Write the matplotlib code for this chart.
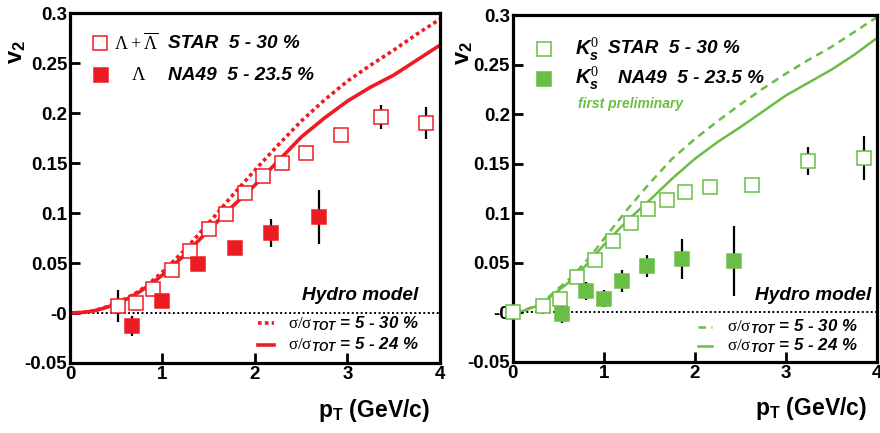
import matplotlib
matplotlib.use('Agg')
import matplotlib.pyplot as plt
import numpy as np

plt.rcParams['font.family'] = ['Liberation Sans', 'DejaVu Sans']
plt.rcParams['mathtext.fontset'] = 'custom'
plt.rcParams['mathtext.rm'] = 'Liberation Serif'
plt.rcParams['mathtext.it'] = 'Liberation Sans:italic:bold'
plt.rcParams['mathtext.bf'] = 'Liberation Sans:bold'

RED = '#ed1c24'
GREEN = '#6abd45'

# Lambda, STAR 5-30 % (open)
lam_star_pt = [0.52, 0.71, 0.90, 1.10, 1.30, 1.50, 1.69, 1.89, 2.09, 2.29, 2.55, 2.93, 3.36, 3.85]
lam_star_v2 = [0.007, 0.010, 0.024, 0.043, 0.062, 0.084, 0.099, 0.120, 0.137, 0.150, 0.160, 0.178, 0.196, 0.190]
lam_star_err = [0.016, 0.004, 0.003, 0.003, 0.003, 0.003, 0.003, 0.003, 0.004, 0.004, 0.005, 0.006, 0.012, 0.016]

# Lambda, NA49 5-23.5 % (filled)
lam_na49_pt = [0.67, 1.00, 1.38, 1.78, 2.17, 2.69]
lam_na49_v2 = [-0.013, 0.012, 0.049, 0.065, 0.080, 0.096]
lam_na49_err = [0.010, 0.004, 0.004, 0.005, 0.014, 0.027]

# K0s, STAR 5-30 % (open)
k0_star_pt = [0.0, 0.33, 0.52, 0.71, 0.90, 1.10, 1.30, 1.49, 1.69, 1.89, 2.17, 2.63, 3.24, 3.86]
k0_star_v2 = [0.0, 0.006, 0.014, 0.036, 0.053, 0.072, 0.090, 0.104, 0.113, 0.122, 0.127, 0.129, 0.153, 0.156]
k0_star_err = [0.003, 0.008, 0.003, 0.003, 0.003, 0.003, 0.003, 0.003, 0.003, 0.003, 0.004, 0.004, 0.014, 0.022]

# K0s, NA49 5-23.5 % (filled)
k0_na49_pt = [0.54, 0.80, 1.00, 1.20, 1.48, 1.86, 2.43]
k0_na49_v2 = [-0.002, 0.022, 0.014, 0.032, 0.047, 0.054, 0.052]
k0_na49_err = [0.009, 0.009, 0.009, 0.011, 0.011, 0.020, 0.035]

# hydro model curves
hydro_pt = [0, 0.125, 0.25, 0.375, 0.5, 0.625, 0.75, 0.875, 1.0, 1.25, 1.5, 1.75, 2.0, 2.25, 2.5,
            2.75, 3.0, 3.25, 3.5, 3.75, 4.0]
lam_hydro_30 = [0, 0.0005, 0.002, 0.0055, 0.010, 0.0155, 0.022, 0.031, 0.041, 0.064, 0.090, 0.117,
                0.143, 0.168, 0.192, 0.213, 0.232, 0.248, 0.263, 0.279, 0.294]
lam_hydro_24 = [0, 0.0005, 0.002, 0.005, 0.009, 0.0145, 0.021, 0.029, 0.038, 0.059, 0.083, 0.106,
                0.128, 0.152, 0.176, 0.195, 0.212, 0.226, 0.238, 0.253, 0.268]
k0_hydro_30 = [0, 0.002, 0.007, 0.014, 0.024, 0.034, 0.046, 0.059, 0.074, 0.103, 0.130, 0.155,
               0.175, 0.193, 0.210, 0.226, 0.241, 0.255, 0.268, 0.283, 0.298]
k0_hydro_24 = [0, 0.0018, 0.006, 0.013, 0.022, 0.031, 0.042, 0.055, 0.068, 0.092, 0.113, 0.135,
               0.155, 0.172, 0.187, 0.203, 0.219, 0.232, 0.245, 0.260, 0.277]

yticks = [-0.05, 0, 0.05, 0.1, 0.15, 0.2, 0.25, 0.3]
ytick_labels = ['-0.05', '-0', '0.05', '0.1', '0.15', '0.2', '0.25', '0.3']
xticks = [0, 1, 2, 3, 4]


def setup_axes(ax):
    ax.set_xlim(0, 4)
    ax.set_ylim(-0.05, 0.3)
    for s in ax.spines.values():
        s.set_linewidth(2.3)
    ax.set_yticks(yticks)
    ax.set_yticklabels(ytick_labels)
    ax.set_xticks(xticks)
    ax.tick_params(direction='in', length=7, width=2, labelsize=13.5, pad=2)
    for lab in ax.get_xticklabels() + ax.get_yticklabels():
        lab.set_fontweight('bold')
    ax.axhline(0, color='black', ls=(0, (1, 1.3)), lw=1.4, zorder=1)


def draw_data(ax, pt, v2, err, color, filled):
    ax.errorbar(pt, v2, yerr=err, fmt='none', ecolor='black', elinewidth=1.6, capsize=0, zorder=2)
    ax.plot(pt, v2, 's', ms=9.5, mec=color, mfc=color if filled else 'white',
            mew=1.1, zorder=3, clip_on=False)


fig = plt.figure(figsize=(8.8, 4.33), dpi=100)
ax1 = fig.add_axes([0.0795, 0.1617, 0.4205, 0.808])
ax2 = fig.add_axes([0.5826, 0.164, 0.414, 0.801])

LEG = 13.7
SIG = 12.2

# ---- left panel: Lambda
setup_axes(ax1)
ax1.plot(hydro_pt, lam_hydro_30, color=RED, ls=(0, (1, 0.9)), lw=2.6, zorder=2)
ax1.plot(hydro_pt, lam_hydro_24, color=RED, ls='-', lw=2.6, zorder=2)
draw_data(ax1, lam_star_pt, lam_star_v2, lam_star_err, RED, False)
draw_data(ax1, lam_na49_pt, lam_na49_v2, lam_na49_err, RED, True)

ax1.plot([0.33], [0.270], 's', ms=9.5, mec=RED, mfc='white', mew=1.1)
ax1.plot([0.335], [0.238], 's', ms=9.5, mec=RED, mfc=RED, mew=1.1)
ax1.text(0.48, 0.270, r'$\mathrm{\Lambda+\overline{\Lambda}}$', fontsize=13, va='center')
ax1.text(1.06, 0.270, 'STAR  5 - 30 %', fontsize=LEG, fontweight='bold', style='italic', va='center')
ax1.text(0.66, 0.238, r'$\mathrm{\Lambda}$', fontsize=13.5, va='center')
ax1.text(1.06, 0.238, 'NA49  5 - 23.5 %', fontsize=LEG, fontweight='bold', style='italic', va='center')

ax1.text(3.77, 0.0175, 'Hydro model', fontsize=LEG, fontweight='bold', style='italic', ha='right', va='center')
ax1.plot([2.03, 2.21], [-0.0105, -0.0105], color=RED, ls=(0, (1, 0.9)), lw=2.6)
ax1.plot([2.03, 2.21], [-0.032, -0.032], color=RED, ls='-', lw=2.6)
ax1.text(2.36, -0.0105, r'$\mathrm{\sigma/\sigma}_{\mathit{TOT}}$ = 5 - 30 %', fontsize=SIG,
         fontweight='bold', style='italic', va='center')
ax1.text(2.36, -0.032, r'$\mathrm{\sigma/\sigma}_{\mathit{TOT}}$ = 5 - 24 %', fontsize=SIG,
         fontweight='bold', style='italic', va='center')

# ---- right panel: K0s
setup_axes(ax2)
ax2.plot(hydro_pt, k0_hydro_30, color=GREEN, ls=(0, (3, 2.2)), lw=1.8, zorder=2)
ax2.plot(hydro_pt, k0_hydro_24, color=GREEN, ls='-', lw=1.8, zorder=2)
draw_data(ax2, k0_star_pt, k0_star_v2, k0_star_err, GREEN, False)
draw_data(ax2, k0_na49_pt, k0_na49_v2, k0_na49_err, GREEN, True)

ax2.plot([0.34], [0.266], 's', ms=9.5, mec=GREEN, mfc='white', mew=1.1)
ax2.plot([0.34], [0.236], 's', ms=9.5, mec=GREEN, mfc=GREEN, mew=1.1)
ax2.text(0.68, 0.266, r'$\mathit{K_s^0}$', fontsize=14.5, va='center')
ax2.text(1.05, 0.266, 'STAR  5 - 30 %', fontsize=LEG, fontweight='bold', style='italic', va='center')
ax2.text(0.68, 0.236, r'$\mathit{K_s^0}$', fontsize=14.5, va='center')
ax2.text(1.16, 0.236, 'NA49  5 - 23.5 %', fontsize=LEG, fontweight='bold', style='italic', va='center')
ax2.text(0.72, 0.21, 'first preliminary', fontsize=10, fontweight='bold', style='italic',
         color=GREEN, va='center')

ax2.text(3.94, 0.017, 'Hydro model', fontsize=LEG, fontweight='bold', style='italic', ha='right', va='center')
ax2.plot([2.04, 2.19], [-0.0145, -0.0145], color=GREEN, ls=(0, (3, 2.2)), lw=1.8)
ax2.plot([2.04, 2.19], [-0.0335, -0.0335], color=GREEN, ls='-', lw=1.8)
ax2.text(2.35, -0.0145, r'$\mathrm{\sigma/\sigma}_{\mathit{TOT}}$ = 5 - 30 %', fontsize=SIG,
         fontweight='bold', style='italic', va='center')
ax2.text(2.35, -0.0335, r'$\mathrm{\sigma/\sigma}_{\mathit{TOT}}$ = 5 - 24 %', fontsize=SIG,
         fontweight='bold', style='italic', va='center')

# axis titles
fig.text(430 / 880, 1 - 410 / 433, r'$\mathbf{p_T}$ (GeV/c)', fontsize=16.5, fontweight='bold',
         ha='right', va='center')
fig.text(867 / 880, 1 - 408 / 433, r'$\mathbf{p_T}$ (GeV/c)', fontsize=16.5, fontweight='bold',
         ha='right', va='center')
fig.text(17 / 880, 1 - 52 / 433, r'$\mathbf{v_2}$', fontsize=17, rotation=90, ha='center', va='center')
fig.text(464 / 880, 1 - 53 / 433, r'$\mathbf{v_2}$', fontsize=17, rotation=90, ha='center', va='center')

fig.savefig('out.png', dpi=100)
